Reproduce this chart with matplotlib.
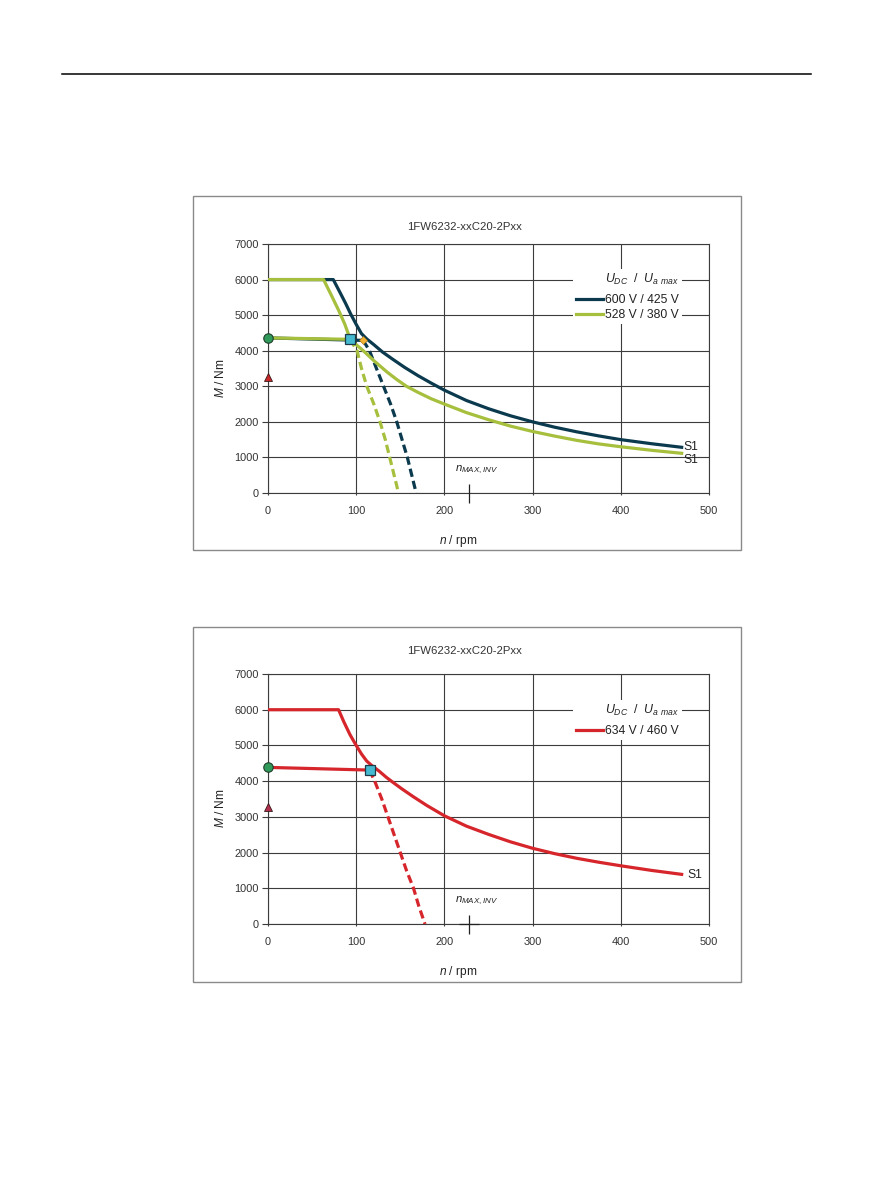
import matplotlib
matplotlib.use("Agg")
import matplotlib.pyplot as plt
from matplotlib.patches import Rectangle
from matplotlib.lines import Line2D

plt.rcParams['font.family'] = ['Liberation Sans', 'DejaVu Sans']
plt.rcParams['mathtext.fontset'] = 'custom'
plt.rcParams['mathtext.rm'] = 'Liberation Sans'
plt.rcParams['mathtext.it'] = 'Liberation Sans:italic'
plt.rcParams['mathtext.bf'] = 'Liberation Sans:bold'

TITLE = "1FW6232-xxC20-2Pxx"
N_MAX_INV = 228

# --- chart 1: 600 V / 425 V (navy) ---
n_600 = [0, 74, 82, 88, 94, 100, 106, 112, 120, 130, 142, 155, 170, 185, 200, 225, 250, 275, 300, 325, 350, 375, 400, 435, 469]
m_600 = [6000, 6000, 5620, 5330, 5020, 4740, 4480, 4330, 4170, 3960, 3750, 3530, 3300, 3090, 2890, 2600, 2370, 2170, 2000, 1850, 1720, 1605, 1500, 1385, 1285]
n_600_low = [0, 108]
m_600_low = [4360, 4290]
n_600_dash = [108, 115, 123, 131, 139, 146, 152, 158, 163, 168]
m_600_dash = [4290, 4000, 3500, 3000, 2500, 2000, 1500, 1000, 500, 0]

# --- chart 1: 528 V / 380 V (green) ---
n_528 = [0, 63, 72, 80, 87, 93, 100, 108, 120, 135, 146, 157, 170, 185, 200, 225, 250, 275, 300, 325, 350, 375, 400, 435, 469]
m_528 = [6000, 6000, 5550, 5140, 4750, 4340, 4170, 4000, 3720, 3400, 3190, 3000, 2830, 2650, 2500, 2260, 2060, 1880, 1730, 1600, 1480, 1380, 1300, 1200, 1116]
n_528_low = [0, 93]
m_528_low = [4360, 4320]
n_528_dash = [93, 101, 106, 112, 120, 127, 133, 138, 143, 148]
m_528_dash = [4320, 4000, 3500, 3000, 2500, 2000, 1500, 1000, 500, 0]

# --- chart 2: 634 V / 460 V (red) ---
n_634 = [0, 80, 86, 93, 100, 106, 112, 118, 126, 134, 142, 152, 165, 180, 200, 225, 250, 275, 300, 325, 350, 375, 400, 435, 469]
m_634 = [6000, 6000, 5660, 5300, 5000, 4760, 4560, 4430, 4280, 4110, 3960, 3780, 3560, 3320, 3030, 2740, 2510, 2300, 2120, 1970, 1840, 1730, 1630, 1500, 1390]
n_634_low = [0, 115]
m_634_low = [4385, 4310]
n_634_dash = [115, 121, 129, 136, 143, 150, 157, 165, 171, 178]
m_634_dash = [4310, 4000, 3500, 3000, 2500, 2000, 1500, 1000, 500, 0]

# marker points (n, M)
circle_1, triangle_1, square_1, diamond_1 = (0, 4355), (0, 3255), (93, 4320), (108, 4290)
circle_2, triangle_2, square_2 = (0, 4385), (0, 3280), (115.5, 4310)

NAVY = "#0b3a4e"
GREEN = "#a6bf3c"
RED = "#d6262c"
GRID = "#3c3c3c"
TXT = "#222222"

fig = plt.figure(figsize=(8.93, 11.91), dpi=100)
W, H = 893.0, 1191.0

# header rule
fig.add_artist(Line2D([62 / W, 811 / W], [1 - 74 / H, 1 - 74 / H], color="black", lw=1.1))


def px_axes(left, top, right, bottom):
    return fig.add_axes([left / W, 1 - bottom / H, (right - left) / W, (bottom - top) / H])


def frame_box(left, top, right, bottom):
    fig.add_artist(Rectangle((left / W, 1 - bottom / H), (right - left) / W, (bottom - top) / H,
                             transform=fig.transFigure, fill=False, ec="#8a8a8a", lw=1.0))


def setup(ax, title_y):
    ax.set_xlim(0, 500)
    ax.set_ylim(0, 7000)
    ax.set_xticks(range(0, 501, 100))
    ax.set_yticks(range(0, 7001, 1000))
    ax.grid(True, color=GRID, lw=0.8)
    ax.set_axisbelow(True)
    for s in ax.spines.values():
        s.set_color(GRID)
        s.set_linewidth(0.8)
    ax.tick_params(axis="y", direction="out", length=4, width=0.8, color=GRID,
                   labelsize=7.9, labelcolor="#333333", pad=2.5)
    ax.tick_params(axis="x", direction="out", length=1.5, width=0.8, color=GRID,
                   labelsize=7.9, labelcolor="#333333", pad=8)
    ax.set_xlabel(r"$n$ / rpm", fontsize=8.6, color=TXT)
    ax.set_ylabel(r"$M$ / Nm", fontsize=8.6, color=TXT)
    ax.xaxis.set_label_coords(0.431, -0.16)
    ax.yaxis.set_label_coords(-0.094, 0.463)
    fig.text(465 / W, 1 - title_y / H, TITLE, ha="center", va="center", fontsize=8.2, color="#333333")


def motor_line(ax, n, m, nl, ml, nd, md, color, label):
    ln, = ax.plot(n, m, color=color, lw=2.3, solid_joinstyle="round", label=label, zorder=3)
    ax.plot(nl, ml, color=color, lw=2.3, zorder=3)
    ax.plot(nd, md, color=color, lw=2.3, dashes=(2.6, 1.3), zorder=3)
    return ln


def markers(ax, circle, triangle, square, tri_color, diamond=None):
    ax.plot(*circle, marker="o", ms=6.8, mfc="#2f9a5a", mec="#1f3d2a", mew=0.8, clip_on=False, zorder=5)
    ax.plot(*triangle, marker="^", ms=6.3, mfc=tri_color, mec="#3a1a1a", mew=0.6, clip_on=False, zorder=5)
    ax.plot(*square, marker="s", ms=7, mfc="#45b9cf", mec="#1c3a48", mew=0.9, zorder=5)
    if diamond is not None:
        ax.plot(*diamond, marker="D", ms=4.2, mfc="#f2b233", mec="#a07010", mew=0.4, zorder=5)


def legend(ax, handles, top):
    leg = ax.legend(handles=handles, title=r"$U_{DC}$  /  $U_{a\ max}$", loc="upper right",
                    bbox_to_anchor=(469, top), bbox_transform=ax.transData,
                    frameon=True, fancybox=False, facecolor="white", edgecolor="none", framealpha=1,
                    fontsize=8.7, title_fontsize=8.9, handlelength=2.2, handletextpad=0.15,
                    labelspacing=0.25, borderpad=0.25, borderaxespad=0, alignment="right")
    leg._legend_box.sep = 5
    for t in leg.get_texts():
        t.set_color(TXT)
    leg.get_title().set_color(TXT)
    leg.set_zorder(4)


def n_max_label(ax, cross=False):
    ax.text(N_MAX_INV - 16, 640, r"$n_{MAX,INV}$", fontsize=8.2, color=TXT, va="center")
    ax.vlines(N_MAX_INV, -290, 260, color="#222222", lw=0.9, clip_on=False, zorder=4)
    if cross:
        ax.hlines(0, N_MAX_INV - 11, N_MAX_INV + 11, color="#222222", lw=0.9, clip_on=False, zorder=4)


# ---------------- chart 1 ----------------
frame_box(193, 196, 741, 550)
ax1 = px_axes(268, 244, 709, 493)
setup(ax1, 226.5)
h600 = motor_line(ax1, n_600, m_600, n_600_low, m_600_low, n_600_dash, m_600_dash, NAVY, "600 V / 425 V")
h528 = motor_line(ax1, n_528, m_528, n_528_low, m_528_low, n_528_dash, m_528_dash, GREEN, "528 V / 380 V")
markers(ax1, circle_1, triangle_1, square_1, "#c8282a", diamond_1)
legend(ax1, [h600, h528], 6300)
ax1.text(471, m_600[-1], "S1", fontsize=8.7, color=TXT, va="center")
ax1.text(471, m_528[-1] - 200, "S1", fontsize=8.7, color=TXT, va="center")
n_max_label(ax1)

# ---------------- chart 2 ----------------
frame_box(193, 627, 741, 982)
ax2 = px_axes(268, 674, 709, 924)
setup(ax2, 650.5)
h634 = motor_line(ax2, n_634, m_634, n_634_low, m_634_low, n_634_dash, m_634_dash, RED, "634 V / 460 V")
markers(ax2, circle_2, triangle_2, square_2, "#b0304e")
legend(ax2, [h634], 6280)
ax2.text(475, m_634[-1] - 30, "S1", fontsize=8.7, color=TXT, va="center")
n_max_label(ax2, cross=True)

fig.savefig("out.png", dpi=100)
